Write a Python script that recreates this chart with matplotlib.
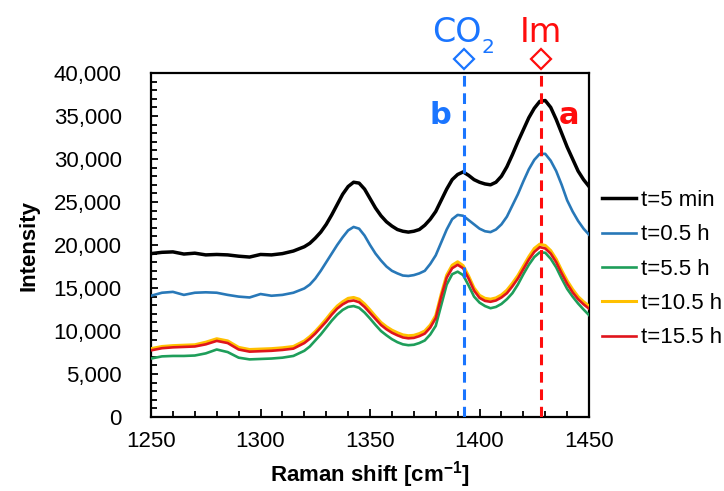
import matplotlib
matplotlib.use("Agg")
import matplotlib.pyplot as plt
from matplotlib.ticker import MultipleLocator, StrMethodFormatter
import matplotlib.transforms as mtransforms

plt.rcParams["font.family"] = ["Liberation Sans", "DejaVu Sans"]
plt.rcParams["mathtext.fontset"] = "custom"
plt.rcParams["mathtext.rm"] = "Liberation Sans"
plt.rcParams["mathtext.bf"] = "Liberation Sans:bold"

# Raman shift axis (cm-1), finer spacing where the peaks are
shift = [1250, 1255, 1260, 1265, 1270, 1275, 1280, 1285, 1290, 1295,
         1300, 1305, 1310, 1315,
         1320, 1322.5, 1325, 1327.5, 1330, 1332.5, 1335, 1337.5, 1340, 1342.5,
         1345, 1347.5, 1350, 1352.5, 1355, 1357.5, 1360, 1362.5, 1365, 1367.5,
         1370, 1372.5, 1375, 1377.5, 1380, 1382.5, 1385, 1387.5, 1390, 1392.5,
         1395, 1397.5, 1400, 1402.5, 1405, 1407.5, 1410, 1412.5, 1415, 1417.5,
         1420, 1422.5, 1425, 1427.5, 1430, 1432.5, 1435, 1437.5, 1440, 1442.5,
         1445, 1447.5, 1450]

t_5min = [19000, 19150, 19200, 18950, 19050, 18850, 18900, 18850, 18700, 18600,
          18900, 18850, 19000, 19300,
          19800, 20200, 20800, 21500, 22400, 23500, 24700, 25900, 26800, 27300,
          27200, 26500, 25400, 24300, 23400, 22700, 22200, 21800, 21600, 21500,
          21600, 21800, 22300, 23000, 23900, 25200, 26500, 27600, 28200, 28500,
          28100, 27600, 27300, 27100, 27000, 27300, 28000, 29100, 30500, 32000,
          33400, 34800, 35900, 36700, 36800, 36000, 34600, 33000, 31400, 30000,
          28600, 27600, 26800]

t_05h = [14100, 14450, 14550, 14200, 14450, 14500, 14450, 14200, 14000, 13900,
         14300, 14100, 14200, 14450,
         14950, 15400, 16100, 17000, 18000, 19000, 20000, 20900, 21700, 22100,
         21900, 21100, 20000, 19000, 18200, 17500, 17000, 16700, 16450, 16400,
         16500, 16700, 17000, 17800, 18800, 20300, 21800, 23000, 23500, 23400,
         22900, 22400, 21900, 21600, 21500, 21800, 22400, 23300, 24600, 25900,
         27400, 28800, 29900, 30600, 30600, 29800, 28600, 27000, 25200, 23900,
         22800, 21900, 21200]

t_55h = [6800, 7050, 7100, 7100, 7150, 7400, 7850, 7550, 6900, 6700,
         6750, 6800, 6900, 7100,
         7700, 8200, 8900, 9600, 10400, 11200, 11900, 12450, 12800, 12900,
         12700, 12150, 11450, 10700, 10000, 9500, 9050, 8700, 8450, 8350,
         8400, 8600, 8900, 9600, 10600, 13000, 15400, 16600, 16900, 16500,
         15300, 14000, 13300, 12900, 12650, 12800, 13150, 13700, 14400, 15400,
         16600, 17700, 18600, 19150, 19100, 18400, 17400, 16100, 14900, 14000,
         13200, 12500, 11850]

t_105h = [7950, 8200, 8300, 8350, 8400, 8700, 9100, 8850, 8100, 7850,
          7900, 7950, 8050, 8200,
          8850, 9350, 9950, 10650, 11400, 12200, 12900, 13400, 13800, 13900,
          13700, 13150, 12450, 11700, 11000, 10500, 10100, 9800, 9550, 9450,
          9500, 9700, 10000, 10700, 11800, 14300, 16500, 17650, 18050, 17600,
          16400, 15000, 14150, 13800, 13700, 13850, 14200, 14750, 15550, 16450,
          17550, 18650, 19600, 20100, 19950, 19350, 18350, 17050, 15850, 14850,
          14000, 13400, 12900]

t_155h = [7750, 8000, 8100, 8150, 8200, 8450, 8850, 8600, 7850, 7600,
          7650, 7700, 7800, 7950,
          8600, 9100, 9700, 10400, 11100, 11900, 12600, 13100, 13450, 13550,
          13350, 12800, 12100, 11400, 10700, 10200, 9800, 9500, 9250, 9150,
          9200, 9400, 9700, 10400, 11500, 14000, 16200, 17300, 17700, 17300,
          16100, 14700, 13850, 13500, 13400, 13550, 13900, 14400, 15200, 16100,
          17200, 18300, 19200, 19750, 19600, 19000, 18000, 16700, 15500, 14500,
          13700, 13100, 12600]

co2_pos = 1393
im_pos = 1428

fig = plt.figure(figsize=(7.24, 4.91), dpi=100)
ax = fig.add_axes([0.2086, 0.1507, 0.605, 0.7006])

ax.plot(shift, t_5min, color="black", lw=2.5, label="t=5 min", zorder=5)
ax.plot(shift, t_05h, color="#2878b8", lw=1.9, label="t=0.5 h", zorder=4)
ax.plot(shift, t_55h, color="#1e9e5a", lw=1.9, label="t=5.5 h", zorder=3)
ax.plot(shift, t_105h, color="#ffc000", lw=2.2, label="t=10.5 h", zorder=3)
ax.plot(shift, t_155h, color="#e0141c", lw=1.9, label="t=15.5 h", zorder=4)

ax.axvline(co2_pos, color="#1a75ff", lw=2.2, ls=(0, (3.5, 2.2)), zorder=6)
ax.axvline(im_pos, color="#ff0d0d", lw=2.2, ls=(0, (3.5, 2.2)), zorder=6)

# diamonds and labels above the plot area
trans = mtransforms.blended_transform_factory(ax.transData, ax.transAxes)
ax.plot([co2_pos], [1.041], marker="D", ms=10, mfc="white", mec="#1a75ff",
        mew=1.6, transform=trans, clip_on=False)
ax.plot([im_pos], [1.041], marker="D", ms=10, mfc="white", mec="#ff0d0d",
        mew=1.6, transform=trans, clip_on=False)
co = ax.annotate("CO", xy=(co2_pos, 1.09), xycoords=trans, xytext=(-5, 0),
                 textcoords="offset points", color="#1a75ff", fontsize=24,
                 family="DejaVu Sans", ha="center", va="baseline")
ax.annotate("2", xy=(1.0, 0.0), xycoords=co, xytext=(-0.5, -3),
            textcoords="offset points", color="#1a75ff", fontsize=14.5,
            family="DejaVu Sans", ha="left", va="baseline")
ax.text(im_pos, 1.09, "Im", color="#ff0d0d", fontsize=24,
        family="DejaVu Sans", ha="center", va="baseline", transform=trans)
ax.text(1382, 0.852, "b", color="#1a75ff", fontsize=22, fontweight="bold",
        family="DejaVu Sans", ha="center", va="baseline", transform=trans)
ax.text(1441, 0.852, "a", color="#ff0d0d", fontsize=22, fontweight="bold",
        family="DejaVu Sans", ha="center", va="baseline", transform=trans)

ax.set_xlim(1250, 1450)
ax.set_ylim(0, 40000)
ax.xaxis.set_major_locator(MultipleLocator(50))
ax.xaxis.set_minor_locator(MultipleLocator(10))
ax.yaxis.set_major_locator(MultipleLocator(5000))
ax.yaxis.set_minor_locator(MultipleLocator(1000))
ax.yaxis.set_major_formatter(StrMethodFormatter("{x:,.0f}"))

ax.tick_params(axis="both", which="both", direction="in", width=1.3,
               colors="black", labelsize=16)
ax.tick_params(axis="x", which="major", length=6, pad=10)
ax.tick_params(axis="x", which="minor", length=4)
ax.tick_params(axis="y", which="major", length=5, pad=21)
ax.tick_params(axis="y", which="minor", length=4)
for s in ax.spines.values():
    s.set_linewidth(1.6)

ax.set_xlabel(r"Raman shift [cm$^{\mathbf{-1}}$]", fontsize=16,
              fontweight="bold", labelpad=5)
ax.set_ylabel("Intensity", fontsize=16, fontweight="bold", labelpad=10)

ax.legend(loc="upper left", bbox_to_anchor=(1.03, 0.66), frameon=False,
          fontsize=16, handlelength=1.5, handletextpad=0.25, labelspacing=0.6,
          borderpad=0, borderaxespad=0)

fig.savefig("out.png", dpi=100)
